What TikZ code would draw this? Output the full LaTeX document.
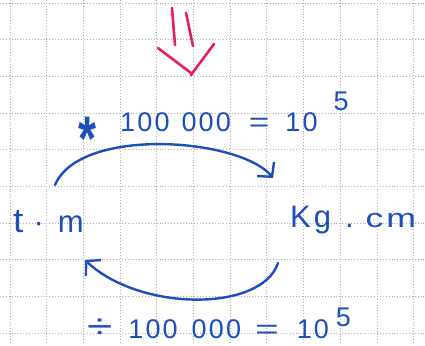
\documentclass[tikz,border=0pt]{standalone}
\usepackage{fontspec}
\setmainfont{Liberation Sans}
\newfontfamily\hand[LetterSpace=8]{Liberation Sans}
\usetikzlibrary{arrows.meta,calc}
\definecolor{ink}{RGB}{28,78,188}
\definecolor{redink}{RGB}{232,32,88}
\definecolor{gridc}{RGB}{175,175,175}
\begin{document}
\begin{tikzpicture}[x=1pt,y=-1pt,
  gridline/.style={draw=gridc, dotted, line width=0.9pt},
  conn/.style={draw=ink, line width=2.4pt, line cap=round,
    -{Straight Barb[length=10pt,width=22pt,line width=2.4pt]}},
  lbl/.style={text=ink, inner sep=0pt, anchor=base west, font=\fontsize{27}{30}\hand},
  word/.style={text=ink, inner sep=0pt, anchor=base west, font=\fontsize{31}{36}\hand},
  redstroke/.style={draw=redink, line width=2.6pt, line cap=round}]
\useasboundingbox (0,0) rectangle (425,345);
\fill[white] (0,0) rectangle (425,345);
\foreach \i in {0,...,11} \draw[gridline] (10+36.7*\i,0) -- (10+36.7*\i,345);
\foreach \j in {0,...,9} \draw[gridline] (0,3+36.7*\j) -- (425,3+36.7*\j);
% red double arrow
\draw[redstroke] (172,8) -- (175,45);
\draw[redstroke] (186,13) -- (193,46);
\draw[redstroke] (158,48) -- (191,73);
\draw[redstroke] (214,44) -- (191,75);
% labels
\node[lbl] (top) at (78,131) {\makebox[20pt][l]{\raisebox{-29pt}{\scalebox{1.1}[1.5]{\fontsize{42}{42}\selectfont\bfseries *}}}\hspace{22pt}100\hspace{12pt}000\hspace{18pt}\scalebox{1.3}[1]{=}\hspace{16pt}10\hspace{16pt}\raisebox{21pt}{5}};
\node[lbl] (bot) at (87,338) {\scalebox{1.7}[1.3]{÷}\hspace{16pt}100\hspace{14pt}000\hspace{14pt}\scalebox{1.5}[1]{=}\hspace{18pt}10\hspace{7pt}\raisebox{12pt}{5}};
\node[word] (tm) at (13,232) {\scalebox{1.2}[1.1]{t}\hspace{10pt}·\hspace{14pt}m};
\node[word] (kg) at (290,227) {K\hspace{3pt}g\hspace{14pt}.\hspace{12pt}\scalebox{1.15}[0.85]{cm}};
% connectors
\draw[conn] ($(tm.base west)+(42,-47)$) .. controls (80,126) and (240,138) .. ($(kg.base west)+(-17,-49)$);
\draw[conn] ($(kg.base west)+(-12,36)$) .. controls (262,312) and (140,312) .. ($(tm.base west)+(72,28)$);
\end{tikzpicture}
\end{document}
